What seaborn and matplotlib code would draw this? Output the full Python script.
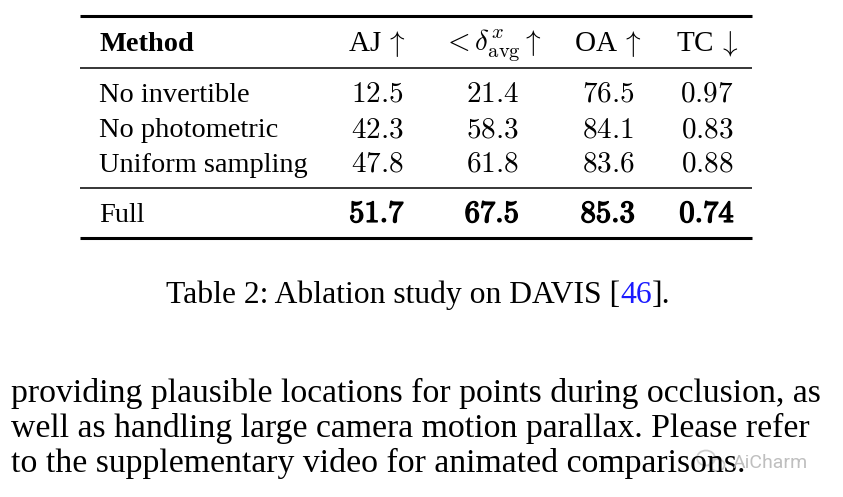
import matplotlib.pyplot as plt
import matplotlib.patheffects as pe
from matplotlib.patches import Ellipse
import seaborn as sns

# table contents
methods = ["No invertible", "No photometric", "Uniform sampling", "Full"]
aj = ["12.5", "42.3", "47.8", "51.7"]
delta_avg = ["21.4", "58.3", "61.8", "67.5"]
oa = ["76.5", "84.1", "83.6", "85.3"]
tc = ["0.97", "0.83", "0.88", "0.74"]
headers = [r"AJ$\,\uparrow$", r"$<\delta^{x}_{\rm avg}\uparrow$", r"OA$\,\uparrow$", r"TC$\,\downarrow$"]
caption = "Table 2: Ablation study on DAVIS ["
cite = "46"
paragraph = [
    "providing plausible locations for points during occlusion, as",
    "well as handling large camera motion parallax. Please refer",
    "to the supplementary video for animated comparisons.",
]

sns.set_theme(style="white")
plt.rcParams["font.family"] = ["Liberation Serif", "DejaVu Serif"]
plt.rcParams["text.color"] = "black"
plt.rcParams["mathtext.fontset"] = "cm"

fig = plt.figure(figsize=(8.43, 4.97), dpi=100)
ax = fig.add_axes([0, 0, 1, 1])
ax.set_xlim(0, 843)
ax.set_ylim(497, 0)
ax.axis("off")

fs = 20.4
col_x = [377, 492, 608, 707]
x0, x1 = 80, 752

# rules
ax.hlines([16, 238], x0, x1, color="black", lw=2.2)
ax.hlines([68, 188], x0, x1, color="black", lw=1.1)

# header
ax.text(99, 51, "Method", fontsize=fs, fontweight="bold", ha="left", va="baseline")
for x, h in zip(col_x, headers):
    ax.text(x, 51, h, fontsize=fs + 0.6, ha="center", va="baseline")

row_y = [102, 137, 172, 222]
columns = [aj, delta_avg, oa, tc]
thick = [pe.withStroke(linewidth=1.0, foreground="black")]
for i, (y, name) in enumerate(zip(row_y, methods)):
    ax.text(99, y, name, fontsize=fs, ha="left", va="baseline")
    for x, col in zip(col_x, columns):
        if i == len(methods) - 1:
            ax.text(x, y, r"$\mathbf{" + col[i] + "}$", fontsize=22, ha="center",
                    va="baseline", path_effects=thick)
        else:
            ax.text(x, y, "$" + col[i] + "$", fontsize=21, ha="center", va="baseline")

# caption
cap = ax.text(166, 303, caption, fontsize=22.8, ha="left", va="baseline")
fig.canvas.draw()
bb = cap.get_window_extent().transformed(ax.transData.inverted())
c2 = ax.text(bb.x1, 303, cite, fontsize=22.8, ha="left", va="baseline", color="#1a1aff")
bb2 = c2.get_window_extent().transformed(ax.transData.inverted())
ax.text(bb2.x1, 303, "].", fontsize=22.8, ha="left", va="baseline")

# body text
for y, line in zip([402, 437, 472], paragraph):
    ax.text(11, y, line, fontsize=24.3, ha="left", va="baseline")

# watermark
ax.add_patch(Ellipse((706, 458), 18, 15, fill=False, ec="#c8c8c8", lw=1.3, alpha=0.9))
ax.add_patch(Ellipse((717, 465), 15, 12, fill=False, ec="#c8c8c8", lw=1.3, alpha=0.9))
ax.text(733, 463, "AiCharm", fontsize=14, color="#b4b4b4", ha="left", va="center",
        family=["Roboto", "DejaVu Sans"], alpha=0.85)

fig.savefig("out.png", dpi=100)
